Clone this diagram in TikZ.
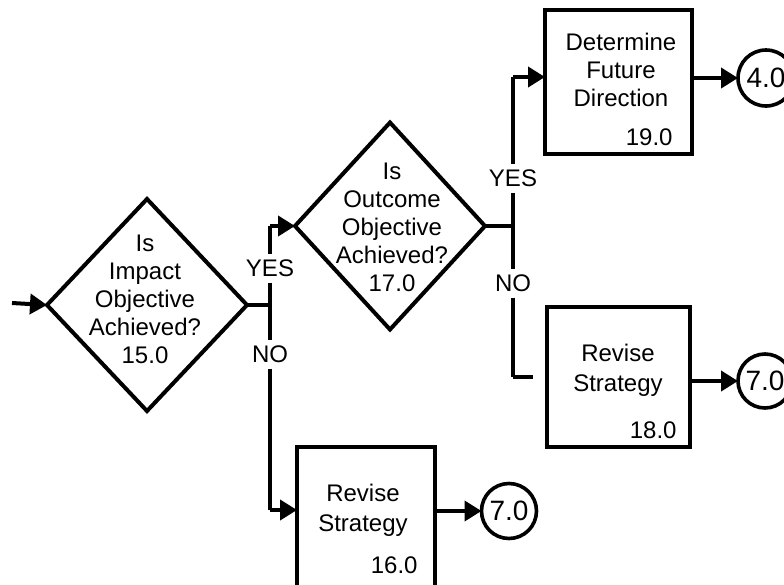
\documentclass[tikz,border=0pt]{standalone}
\usepackage{fontspec}
\setmainfont{Liberation Sans}
\usetikzlibrary{shapes.geometric,arrows.meta}
\begin{document}
\begin{tikzpicture}[x=0.5pt,y=-0.5pt,
  every node/.style={font=\fontsize{12pt}{14pt}\selectfont},
  decision/.style={draw,diamond,inner sep=0pt,outer sep=0pt,line width=2pt},
  process/.style={draw,rectangle,inner sep=0pt,outer sep=0pt,line width=2.2pt},
  connector/.style={draw,circle,inner sep=0pt,outer sep=0pt,line width=1.8pt,
    font=\fontsize{14pt}{16pt}\selectfont},
  body/.style={align=center,inner sep=0pt},
  lbl/.style={inner sep=2.8pt},
  flow/.style={line width=2pt},
  arr/.style={flow,-{Triangle[length=8.5pt,width=10pt]}}]
\useasboundingbox (0,0) rectangle (784,585);
\clip (0,0) rectangle (784,585);

% decision diamonds
\node[decision,minimum width=100pt,minimum height=106pt] (d1) at (147,305) {};
\node[body] (d1t) at (145,299) {Is\\Impact\\Objective\\Achieved?\\15.0};
\node[decision,minimum width=95pt,minimum height=103.5pt] (d2) at (390,226) {};
\node[body] (d2t) at (392,227) {Is\\Outcome\\Objective\\Achieved?\\17.0};

% process boxes
\node[process,minimum width=73.5pt,minimum height=72pt] (b19) at (618.5,82) {};
\node[body] (b19t) at (621,70) {Determine\\Future\\Direction};
\node[anchor=east,inner sep=0pt] (b19n) at (673,137) {19.0};

\node[process,minimum width=71.5pt,minimum height=70pt] (b18) at (618.5,377) {};
\node[body,font=\fontsize{12pt}{15pt}\selectfont] (b18t) at (618,370) {Revise\\Strategy};
\node[anchor=east,inner sep=0pt] (b18n) at (677,430) {18.0};

\node[process,minimum width=69pt,minimum height=75pt] (b16) at (366,522) {};
\node[body,font=\fontsize{12pt}{15pt}\selectfont] (b16t) at (363,510) {Revise\\Strategy};
\node[anchor=east,inner sep=0pt] (b16n) at (418,565) {16.0};

% off-page connectors
\node[connector,minimum size=28pt] (c4) at (766,78) {4.0};
\node[connector,minimum size=27pt] (c7r) at (765,381) {7.0};
\node[connector,minimum size=27.5pt] (c7b) at (509,511) {7.0};

% branch points and free ends
\coordinate (in) at (12,303);
\coordinate (j1top) at (270,226);
\coordinate (j1bot) at (270,510);
\coordinate (j2top) at (513,77);
\coordinate (j2bot) at (513,377);
\coordinate (j2end) at (533,377);

% branch labels
\node[lbl] (yes1) at (270,268) {YES};
\node[lbl] (no1) at (270,354) {NO};
\node[lbl] (yes2) at (513,178) {YES};
\node[lbl] (no2) at (513,283) {NO};

% entry
\draw[arr] (in) -- (d1.west);

% first decision branches
\draw[flow] (d1.east) -- (d1.east -| j1top);
\draw[flow] (j1top) -- (yes1.north);
\draw[flow] (yes1.south) -- (no1.north);
\draw[flow] (no1.south) -- (j1bot);
\draw[arr] (j1top) -- (d2.west);
\draw[arr] (j1bot) -- (j1bot -| b16.west);

% second decision branches
\draw[flow] (d2.east) -- (d2.east -| j2top);
\draw[flow] (j2top) -- (yes2.north);
\draw[flow] (yes2.south) -- (no2.north);
\draw[flow] (no2.south) -- (j2bot);
\draw[arr] (j2top) -- (j2top -| b19.west);
\draw[flow] (j2bot) -- (j2end);

% boxes to connectors
\draw[arr] (b19.east |- c4) -- (c4.west);
\draw[arr] (b18.east |- c7r) -- (c7r.west);
\draw[arr] (b16.east |- c7b) -- (c7b.west);
\end{tikzpicture}
\end{document}
